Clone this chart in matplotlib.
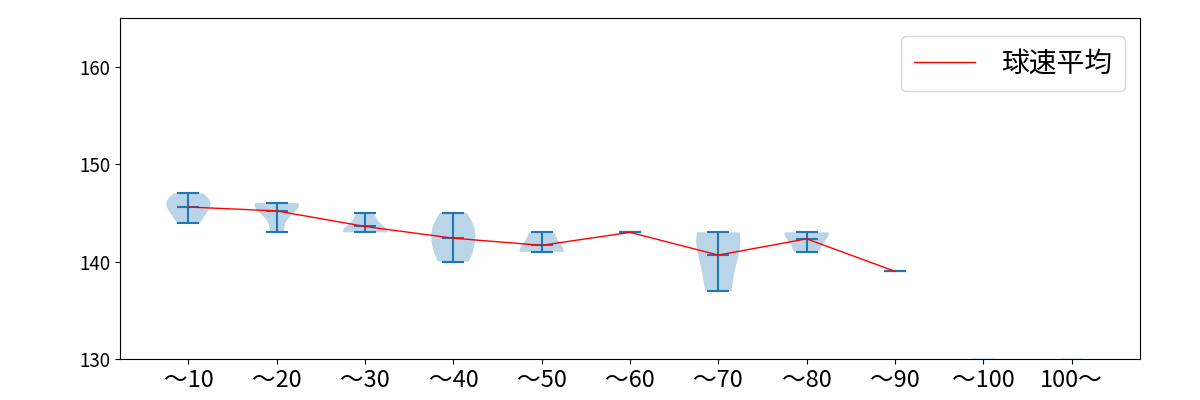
import numpy as np
import matplotlib.pyplot as plt

plt.rcParams['font.family'] = ['Noto Sans CJK JP', 'DejaVu Sans']

# 打球速度の区間ごとの球速データ
labels = ['〜10', '〜20', '〜30', '〜40', '〜50', '〜60', '〜70', '〜80', '〜90', '〜100', '100〜']
d10 = [144, 146, 146, 147, 145]
d20 = [143, 145, 146, 146, 146]
d30 = [143, 143, 143, 144, 145]
d40 = [140, 141, 143, 143, 145]
d50 = [141, 141, 143]
d60 = [143]
d70 = [137, 142, 143]
d80 = [141, 143, 143]
d90 = [139]
d100 = [129.92]
d100over = [129.92]

data = [d10, d20, d30, d40, d50, d60, d70, d80, d90, d100, d100over]
positions = np.arange(1, len(labels) + 1)
means = [np.mean(d) for d in data[:9]]

fig, ax = plt.subplots(figsize=(12, 4))
ax.violinplot(data, positions=positions, showmeans=True, showextrema=True)
ax.plot(positions[:9], means, color='red', linewidth=1, label='球速平均')

ax.set_xticks(positions)
ax.set_xticklabels(labels, fontsize=17)
ax.tick_params(axis='y', labelsize=13.5)
ax.set_ylim(130, 165)
ax.set_yticks([130, 140, 150, 160])
ax.legend(loc='upper right', bbox_to_anchor=(0.985, 0.947), borderaxespad=0,
          fontsize=20, borderpad=0.45, handlelength=2.2, handletextpad=0.95)

plt.subplots_adjust(left=0.1, right=0.95, top=0.955, bottom=0.1025)
plt.savefig('out.png', dpi=100)
